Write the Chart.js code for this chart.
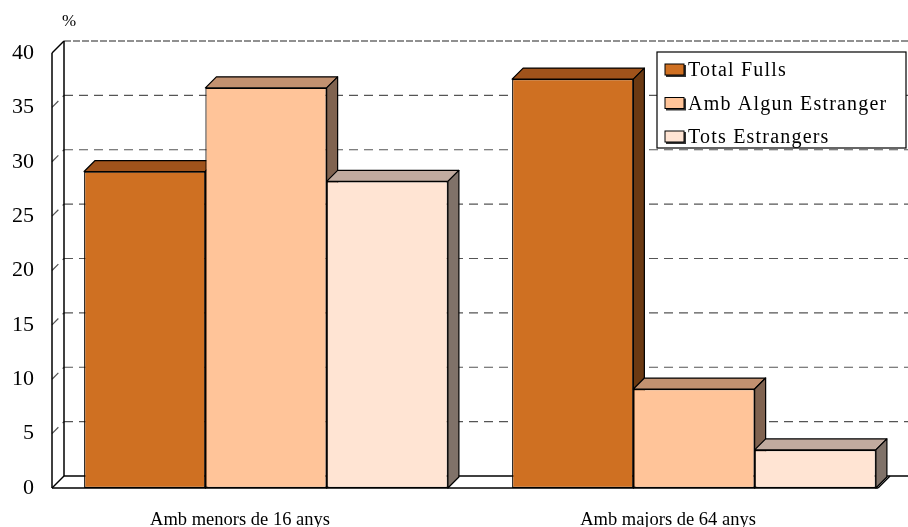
<!DOCTYPE html>
<html>
<head>
<meta charset="utf-8">
<script src="https://cdn.jsdelivr.net/npm/chart.js@4/dist/chart.umd.min.js"></script>
<style>
  body { margin: 0; background: #fff; }
  #wrap { position: relative; width: 908px; height: 527px; }
</style>
</head>
<body>
<div id="wrap"><canvas id="bar-chart"></canvas></div>
<script>
const categories = ["Amb menors de 16 anys", "Amb majors de 64 anys"];
const seriesNames = ["Total Fulls", "Amb Algun Estranger", "Tots Estrangers"];
const totalFulls = [29.1, 37.6];
const ambAlgun = [36.8, 9.1];
const totsEstr = [28.2, 3.5];

// front / top / side colours of each series
const faceColors = [
  ["#CF7022", "#A0531B", "#6B3912"],
  ["#FFC499", "#C29170", "#806350"],
  ["#FFE4D3", "#C1AB9F", "#807269"],
];

const SERIF = "'Liberation Serif', 'Times New Roman', serif";
const WDX = 12, WDY = -12; // wall depth
const BDX = 11, BDY = -11; // bar depth

function poly(ctx, pts, fill) {
  ctx.beginPath();
  ctx.moveTo(pts[0][0], pts[0][1]);
  for (let i = 1; i < pts.length; i++) ctx.lineTo(pts[i][0], pts[i][1]);
  ctx.closePath();
  ctx.fillStyle = fill;
  ctx.fill();
  ctx.stroke();
}

function line(ctx, x1, y1, x2, y2) {
  ctx.beginPath();
  ctx.moveTo(x1, y1);
  ctx.lineTo(x2, y2);
  ctx.stroke();
}

const walls = {
  id: "walls",
  beforeDatasetsDraw(chart) {
    const ctx = chart.ctx;
    const a = chart.chartArea;
    const y = chart.scales.y;
    const W = chart.width;
    const floorRight = a.right - 30;
    ctx.save();
    // back gridlines
    ctx.strokeStyle = "#555";
    ctx.lineWidth = 1.2;
    ctx.setLineDash([9, 6]);
    for (let v = 5; v < 40; v += 5) {
      const yf = y.getPixelForValue(v);
      line(ctx, a.left + WDX, yf + WDY, W, yf + WDY);
      line(ctx, a.left, yf, a.left + WDX, yf + WDY);
    }
    ctx.strokeStyle = "#222";
    ctx.setLineDash([7, 2]);
    line(ctx, a.left + WDX, a.top + WDY, W, a.top + WDY);
    ctx.setLineDash([]);
    // left wall and floor
    ctx.strokeStyle = "#000";
    ctx.lineWidth = 1.5;
    line(ctx, a.left, a.top, a.left, a.bottom);
    line(ctx, a.left + WDX, a.top + WDY, a.left + WDX, a.bottom + WDY);
    line(ctx, a.left, a.top, a.left + WDX, a.top + WDY);
    line(ctx, a.left, a.bottom, a.left + WDX, a.bottom + WDY);
    line(ctx, a.left + WDX, a.bottom + WDY, W, a.bottom + WDY);
    line(ctx, a.left, a.bottom, floorRight, a.bottom);
    line(ctx, floorRight, a.bottom, floorRight + WDX, a.bottom + WDY);
    ctx.restore();

    // bars left to right, each with its top and side face
    for (let i = 0; i < chart.data.datasets.length; i++) {
      const cols = faceColors[i];
      chart.getDatasetMeta(i).data.forEach(bar => {
        bar.draw(ctx);
        const p = bar.getProps(["x", "y", "base", "width"], true);
        const x0 = p.x - p.width / 2, x1 = p.x + p.width / 2;
        const yt = p.y, yb = p.base;
        ctx.save();
        ctx.strokeStyle = "#000";
        ctx.lineWidth = 1.2;
        ctx.lineJoin = "round";
        poly(ctx, [[x0, yt], [x1, yt], [x1 + BDX, yt + BDY], [x0 + BDX, yt + BDY]], cols[1]);
        poly(ctx, [[x1, yt], [x1 + BDX, yt + BDY], [x1 + BDX, yb + BDY], [x1, yb]], cols[2]);
        ctx.restore();
      });
    }
    return false;
  },
  afterDraw(chart) {
    const ctx = chart.ctx;
    ctx.save();
    // unit label
    ctx.fillStyle = "#000";
    ctx.font = "17px " + SERIF;
    ctx.textAlign = "left";
    ctx.textBaseline = "middle";
    ctx.fillText("%", 62, 22);
    // legend
    ctx.fillStyle = "#fff";
    ctx.strokeStyle = "#000";
    ctx.lineWidth = 1.2;
    ctx.fillRect(657, 52, 249, 96);
    ctx.strokeRect(657, 52, 249, 96);
    ctx.font = "20px " + SERIF;
    ctx.letterSpacing = "1.2px";
    seriesNames.forEach((name, i) => {
      const cy = 70 + i * 33.5;
      ctx.fillStyle = "#333";
      ctx.fillRect(666, cy - 5, 20, 12);
      ctx.fillStyle = faceColors[i][0];
      ctx.fillRect(665, cy - 6, 19, 11);
      ctx.strokeStyle = "#000";
      ctx.lineWidth = 1;
      ctx.strokeRect(665, cy - 6, 19, 11);
      ctx.fillStyle = "#000";
      ctx.fillText(name, 688, cy + 1);
    });
    ctx.restore();
  },
};

const BarCtx = document.getElementById("bar-chart");

const BarData = {
  labels: categories,
  datasets: [totalFulls, ambAlgun, totsEstr].map((d, i) => ({
    label: seriesNames[i],
    data: d,
    backgroundColor: faceColors[i][0],
    borderColor: "#000",
    borderWidth: 1.2,
    borderSkipped: false,
    barPercentage: 1,
    categoryPercentage: 0.85,
  })),
};

new Chart(BarCtx, {
  type: "bar",
  data: BarData,
  plugins: [walls],
  options: {
    responsive: true,
    maintainAspectRatio: false,
    animation: false,
    layout: { padding: { top: 53, right: 0, left: 0, bottom: 0 } },
    plugins: { legend: { display: false }, tooltip: { enabled: false } },
    scales: {
      x: {
        grid: { display: false, drawTicks: false },
        border: { display: false },
        ticks: {
          color: "#000",
          font: { family: SERIF, size: 18.5 },
          padding: 21,
          labelOffset: -26,
          maxRotation: 0,
        },
        afterFit: s => { s.height = 39; },
      },
      y: {
        min: 0,
        max: 40,
        grid: { display: false, drawTicks: false },
        border: { display: false },
        ticks: {
          stepSize: 5,
          color: "#000",
          font: { family: SERIF, size: 22 },
          padding: 18,
        },
        afterFit: s => { s.width = 52; },
      },
    },
  },
});
</script>
</body>
</html>
